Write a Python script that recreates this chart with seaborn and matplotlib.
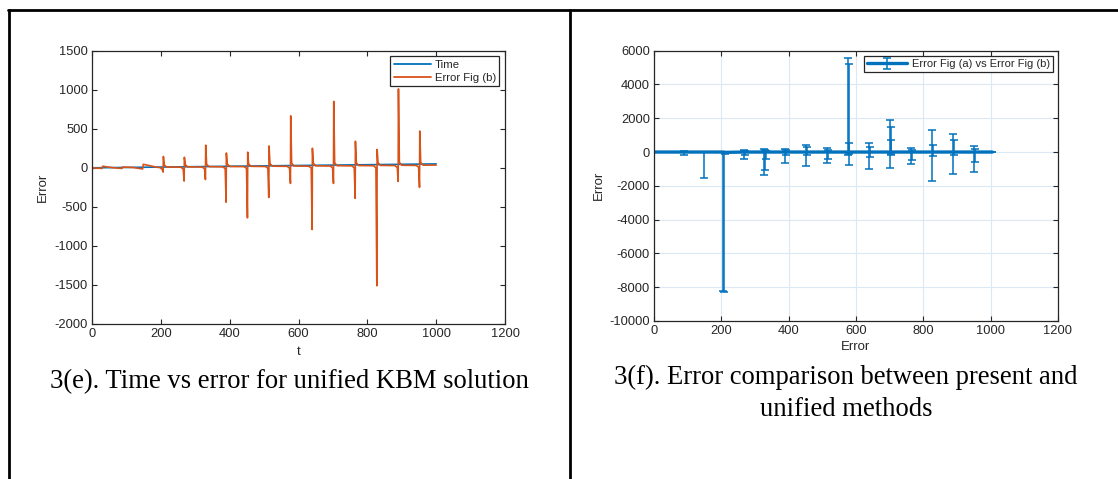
import matplotlib
matplotlib.use("Agg")
import matplotlib.pyplot as plt
from matplotlib.lines import Line2D
import pandas as pd
import seaborn as sns

# Left panel: Time line
time_t = [0, 250, 500, 750, 1000]
time_v = [0, 12, 25, 37, 50]

# Left panel: Error Fig (b)
err_t = [0, 29, 31, 60, 87, 89, 120,
         147, 149, 190, 197, 204, 206.6, 207.4, 210, 217,
         258, 265, 267.6, 268.4, 271, 278,
         320, 327, 329.6, 330.4, 333, 340,
         380, 387, 389.6, 390.4, 393, 400,
         442, 449, 451.6, 452.4, 455, 462,
         504, 511, 513.6, 514.4, 517, 524,
         567, 574, 576.6, 577.4, 580, 587,
         630, 637, 639.6, 640.4, 643, 650,
         692, 699, 701.6, 702.4, 705, 712,
         755, 762, 764.6, 765.4, 768, 775,
         818, 825, 827.6, 828.4, 831, 838,
         880, 887, 889.6, 890.4, 893, 900,
         942, 949, 951.6, 952.4, 955, 962, 1000]
err_v = [0, -8, 20, 2, -8, 10, 4,
         -15, 45, 6, 4, -20, -55, 145, 35, 10,
         8, -15, -170, 135, 40, 12,
         10, -12, -150, 290, 45, 15,
         12, -10, -440, 190, 50, 17,
         15, -8, -640, 200, 50, 19,
         17, -5, -380, 280, 55, 21,
         19, -5, -200, 665, 60, 23,
         21, -3, -790, 250, 60, 25,
         23, 0, -200, 850, 65, 27,
         25, 0, -390, 340, 65, 29,
         27, 0, -1510, 235, 65, 31,
         29, 5, -175, 1010, 70, 33,
         31, 8, -250, 470, 70, 34, 35]

# Right panel: Error Fig (a) vs Error Fig (b) with error bars
cmp_x = [0, 30, 88, 148, 205, 208, 210, 268, 270, 328, 331, 333,
         389, 392, 450, 454, 513, 516, 576, 578, 580, 639, 642,
         700, 703, 705, 764, 767, 826, 829, 889, 892, 950, 953, 1005]
cmp_y = [0, 0, 0, 0, 0, 0, -20, 0, 0, 0, 0, 0,
         0, 0, 0, 0, 0, 0, 0, 0, 0, 0, 0,
         0, 0, 0, 0, 0, 0, 0, 0, 0, 0, 0, 0]
cmp_lo = [0, 20, 200, 1520, 8200, 8260, 120, 430, 200, 1330, 1050, 400,
          650, 150, 830, 150, 650, 400, 200, 770, 100, 990, 300,
          970, 200, 100, 730, 450, 1700, 240, 1290, 200, 1170, 600, 0]
cmp_hi = [0, 20, 50, 0, 0, 30, 20, 140, 80, 160, 100, 60,
          200, 120, 420, 300, 220, 100, 5540, 5190, 550, 550, 300,
          1880, 1490, 730, 240, 150, 1330, 400, 1050, 690, 360, 160, 0]

BLUE = "#0072BD"
ORANGE = "#D95319"
INK = "#262626"

sns.set_style("ticks")
plt.rcParams["font.family"] = ["Liberation Sans", "DejaVu Sans"]
plt.rcParams.update({
    "axes.unicode_minus": False,
    "xtick.direction": "in", "ytick.direction": "in",
    "xtick.top": True, "ytick.right": True,
    "xtick.major.size": 3.5, "ytick.major.size": 3.5,
    "xtick.major.pad": 3, "ytick.major.pad": 3,
    "xtick.color": INK, "ytick.color": INK,
    "xtick.labelsize": 9.3, "ytick.labelsize": 9.3,
    "axes.edgecolor": INK, "axes.linewidth": 0.9,
})

df_time = pd.DataFrame({"t": time_t, "value": time_v, "series": "Time"})
df_err = pd.DataFrame({"t": err_t, "value": err_v, "series": "Error Fig (b)"})
df_left = pd.concat([df_time, df_err], ignore_index=True)

fig = plt.figure(figsize=(11.18, 4.79), dpi=100)

# left chart
ax1 = fig.add_axes([0.0823, 0.3236, 0.3694, 0.5706])
sns.lineplot(data=df_left, x="t", y="value", hue="series", estimator=None,
             sort=False, palette={"Time": BLUE, "Error Fig (b)": ORANGE},
             linewidth=1.2, ax=ax1)
ax1.set_xlim(0, 1200)
ax1.set_ylim(-2000, 1500)
ax1.set_xticks(range(0, 1201, 200))
ax1.set_yticks(range(-2000, 1501, 500))
ax1.set_xlabel("t", fontsize=9.5, color=INK, labelpad=4)
ax1.set_ylabel("Error", fontsize=9.5, color=INK, labelpad=4)
leg1 = ax1.legend(loc="upper right", fontsize=8.2, frameon=True, fancybox=False,
                  edgecolor=INK, framealpha=1, borderaxespad=0.5,
                  handlelength=3.3, borderpad=0.3, labelspacing=0.25,
                  handletextpad=0.3)
leg1.get_frame().set_linewidth(0.9)
for line in leg1.get_lines():
    line.set_linewidth(1.3)

# right chart
ax2 = fig.add_axes([0.585, 0.3299, 0.3613, 0.5643])
ax2.errorbar(cmp_x, cmp_y, yerr=[cmp_lo, cmp_hi], color=BLUE, linewidth=2.4,
             elinewidth=1.1, capsize=2.8, capthick=1.1,
             label="Error Fig (a) vs Error Fig (b)")
ax2.set_xlim(0, 1200)
ax2.set_ylim(-10000, 6000)
ax2.set_xticks(range(0, 1201, 200))
ax2.set_yticks(range(-10000, 6001, 2000))
ax2.grid(True, color="#dbe9f7", linewidth=0.8)
ax2.set_axisbelow(True)
ax2.set_xlabel("Error", fontsize=9.5, color=INK, labelpad=3)
ax2.set_ylabel("Error", fontsize=9.5, color=INK, labelpad=3)
leg2 = ax2.legend(loc="upper right", fontsize=8, frameon=True, fancybox=False,
                  edgecolor=INK, framealpha=1, borderaxespad=0.45,
                  handlelength=3.6, borderpad=0.3, handletextpad=0.4)
leg2.get_frame().set_linewidth(0.9)
for line in leg2.get_lines():
    line.set_linewidth(1.2)

# table borders
fig.add_artist(Line2D([0.0072, 1.0], [0.980, 0.980], color="black", linewidth=2))
fig.add_artist(Line2D([0.0081, 0.0081], [0, 0.980], color="black", linewidth=2))
fig.add_artist(Line2D([0.5094, 0.5094], [0, 0.980], color="black", linewidth=2))

# captions
serif = ["Liberation Serif", "DejaVu Serif"]
fig.text(0.2585, 1 - 388 / 479, "3(e). Time vs error for unified KBM solution",
         family=serif, fontsize=19.2, color="black", ha="center", va="baseline")
fig.text(0.7567, 1 - 384 / 479, "3(f). Error comparison between present and",
         family=serif, fontsize=19.2, color="black", ha="center", va="baseline")
fig.text(0.7567, 1 - 416 / 479, "unified methods",
         family=serif, fontsize=19.2, color="black", ha="center", va="baseline")

fig.savefig("out.png", dpi=100)
